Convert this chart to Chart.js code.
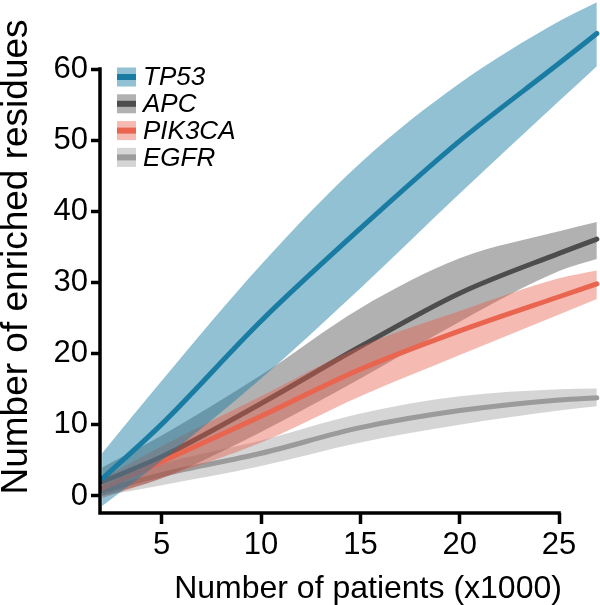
<!DOCTYPE html>
<html>
<head>
<meta charset="utf-8">
<script src="https://cdn.jsdelivr.net/npm/chart.js@4.4.1/dist/chart.umd.min.js"></script>
<style>
  html, body { margin: 0; padding: 0; background: #fff; }
  #wrap { width: 600px; height: 605px; }
</style>
</head>
<body>
<div id="wrap"><canvas id="chart" width="600" height="605"></canvas></div>
<script>
// patients (x1000)
const patients = [2, 5, 10, 15, 20, 25, 26.9];

const tp53Mid = [2.4, 10.1, 24.6, 37.6, 49.9, 60.8, 65];
const tp53Hi  = [6, 16.2, 32.5, 46.8, 58, 66.7, 69.4];
const tp53Lo  = [-1.4, 5, 16.5, 29.2, 42.5, 55.5, 60.4];

const apcMid = [2, 5.5, 13, 21, 28.5, 34.1, 36.1];
const apcHi  = [4, 8.5, 17, 26.4, 33.4, 37.2, 38.5];
const apcLo  = [0, 2.5, 9, 16.5, 24.5, 31.6, 33.3];

const pikMid = [1.1, 4.8, 11.2, 17.8, 23.2, 28, 29.8];
const pikHi  = [2.5, 7, 14, 21, 26, 30.6, 31.7];
const pikLo  = [-0.3, 2.5, 7.5, 14, 19.8, 25.5, 27.7];

const egfrMid = [0.7, 3, 6, 9.6, 12, 13.5, 13.8];
const egfrHi  = [1.5, 4.5, 7.8, 11.6, 14, 15, 15.1];
const egfrLo  = [0, 1.5, 4.2, 7.5, 10, 12, 12.6];

const genes = ['TP53', 'APC', 'PIK3CA', 'EGFR'];
const xTicks = [5, 10, 15, 20, 25];
const yTicks = [0, 10, 20, 30, 40, 50, 60];

const lineColors = ['#1a7ca3', '#4d4d4d', '#e9654f', '#9b9b9b'];
const bandColors = ['rgba(26,126,163,0.48)', 'rgba(70,70,70,0.42)', 'rgba(232,90,70,0.42)', 'rgba(150,150,150,0.4)'];

const FONT = '"Liberation Sans", Arial, Helvetica, sans-serif';

function pts(arr) {
    return patients.map((x, i) => ({x: x, y: arr[i]}));
}

function series(i, mid, hi, lo, order) {
    const common = {pointRadius: 0, cubicInterpolationMode: 'monotone', borderWidth: 0};
    return [
        Object.assign({label: genes[i] + ' hi', data: pts(hi), fill: '+1', backgroundColor: bandColors[i], borderColor: 'transparent', order: order + 1}, common),
        Object.assign({label: genes[i] + ' lo', data: pts(lo), fill: false, borderColor: 'transparent', order: order + 1}, common),
        {label: genes[i], data: pts(mid), fill: false, borderColor: lineColors[i], borderWidth: 5,
         borderCapStyle: 'round', pointRadius: 0, cubicInterpolationMode: 'monotone', order: order}
    ];
}

const datasets = [].concat(
    series(0, tp53Mid, tp53Hi, tp53Lo, 1),
    series(1, apcMid, apcHi, apcLo, 5),
    series(2, pikMid, pikHi, pikLo, 3),
    series(3, egfrMid, egfrHi, egfrLo, 7)
);

const decor = {
    id: 'decor',
    afterDraw(chart) {
        const ctx = chart.ctx;
        const area = chart.chartArea;
        const xs = chart.scales.x, ys = chart.scales.y;
        const lw = 3.5;
        ctx.save();
        ctx.strokeStyle = '#000';
        ctx.lineWidth = lw;
        ctx.lineCap = 'butt';
        ctx.beginPath();
        ctx.moveTo(area.left, ys.getPixelForValue(yTicks[yTicks.length - 1]) - lw / 2);
        ctx.lineTo(area.left, area.bottom + lw / 2);
        ctx.moveTo(area.left - lw / 2, area.bottom);
        ctx.lineTo(xs.getPixelForValue(xTicks[xTicks.length - 1]) + lw / 2, area.bottom);
        ctx.stroke();

        // legend
        ctx.textBaseline = 'middle';
        ctx.textAlign = 'left';
        ctx.font = 'italic 26px ' + FONT;
        genes.forEach((g, i) => {
            const cy = 77 + i * 26.8;
            ctx.fillStyle = '#fff';
            ctx.fillRect(117, cy - 9.5, 19, 19);
            ctx.fillStyle = bandColors[i];
            ctx.fillRect(117, cy - 9.5, 19, 19);
            ctx.fillStyle = lineColors[i];
            ctx.fillRect(117, cy - 3, 19, 6);
            ctx.fillStyle = '#000';
            ctx.fillText(g, 143, cy + 1);
        });

        // axis titles
        ctx.fillStyle = '#000';
        ctx.textAlign = 'center';
        ctx.textBaseline = 'alphabetic';
        ctx.font = '32px ' + FONT;
        ctx.fillText('Number of patients (x1000)', 368, 598);
        ctx.translate(26.5, 257);
        ctx.rotate(-Math.PI / 2);
        ctx.font = '37px ' + FONT;
        ctx.fillText('Number of enriched residues', 0, 0);
        ctx.restore();
    }
};

new Chart(document.getElementById('chart'), {
    type: 'line',
    data: {datasets: datasets},
    options: {
        responsive: false,
        animation: false,
        layout: {padding: 0},
        plugins: {legend: {display: false}, tooltip: {enabled: false}},
        scales: {
            x: {
                type: 'linear',
                min: 1.894,
                max: 27.06,
                afterFit: s => { s.height = 92; s.paddingLeft = 0; s.paddingRight = 0; },
                afterBuildTicks: s => { s.ticks = xTicks.map(v => ({value: v})); },
                border: {display: false},
                grid: {drawOnChartArea: false, drawTicks: true, tickLength: 11, tickWidth: 3.5, tickColor: '#000'},
                ticks: {color: '#000', font: {family: FONT, size: 31}, padding: 3, maxRotation: 0}
            },
            y: {
                min: -2.39,
                max: 69.7,
                afterFit: s => { s.width = 100; s.paddingTop = 0; s.paddingBottom = 0; },
                afterBuildTicks: s => { s.ticks = yTicks.map(v => ({value: v})); },
                border: {display: false},
                grid: {drawOnChartArea: false, drawTicks: true, tickLength: 9, tickWidth: 3.5, tickColor: '#000'},
                ticks: {color: '#000', font: {family: FONT, size: 31}, padding: 3}
            }
        }
    },
    plugins: [decor]
});
</script>
</body>
</html>
